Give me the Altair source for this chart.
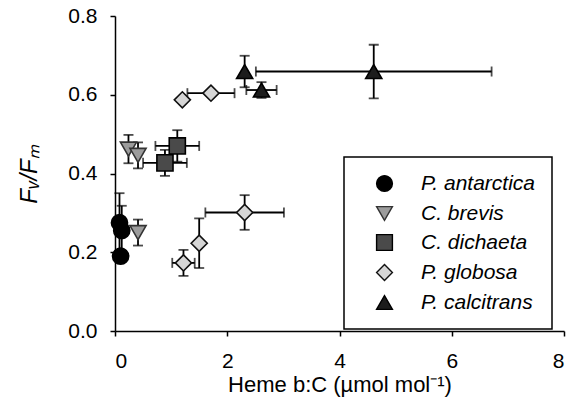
import altair as alt
import pandas as pd

species = ["P. antarctica", "C. brevis", "C. dichaeta", "P. globosa", "P. calcitrans"]
shapes = ["circle", "triangle-down", "square", "diamond", "triangle-up"]
fills = ["#000000", "#9c9c9c", "#4a4a4a", "#d6d6d6", "#1c1c1c"]
outlines = ["#000000", "#333333", "#000000", "#111111", "#000000"]

ant_x = [0.08, 0.12, 0.10]
ant_y = [0.275, 0.255, 0.19]
ant_xe = [0, 0, 0]
ant_ye = [0.075, 0.063, 0.015]

bre_x = [0.24, 0.41, 0.41]
bre_y = [0.462, 0.446, 0.25]
bre_xe = [0, 0, 0]
bre_ye = [0.036, 0.033, 0.033]

dic_x = [1.11, 0.89]
dic_y = [0.470, 0.427]
dic_xe = [0.39, 0.39]
dic_ye = [0.04, 0.033]

glo_x = [1.20, 1.71, 2.31, 1.50, 1.22]
glo_y = [0.587, 0.604, 0.301, 0.223, 0.173]
glo_xe = [0, 0.42, 0.70, 0, 0.20]
glo_ye = [0, 0, 0.044, 0.063, 0.033]

cal_x = [2.31, 2.61, 4.61]
cal_y = [0.659, 0.612, 0.659]
cal_xe = [0, 0.27, 2.1]
cal_ye = [0.04, 0.02, 0.068]

rows = []
for sp, xs_, ys_, xes, yes in [
    (species[0], ant_x, ant_y, ant_xe, ant_ye),
    (species[1], bre_x, bre_y, bre_xe, bre_ye),
    (species[2], dic_x, dic_y, dic_xe, dic_ye),
    (species[3], glo_x, glo_y, glo_xe, glo_ye),
    (species[4], cal_x, cal_y, cal_xe, cal_ye),
]:
    for x, y, xe, ye in zip(xs_, ys_, xes, yes):
        rows.append(dict(sp=sp, x=x, y=y, xerr=xe, yerr=ye,
                         xlo=x - xe, xhi=x + xe, ylo=y - ye, yhi=y + ye))
df = pd.DataFrame(rows)

xs = alt.Scale(domain=[0, 8], nice=False)
ys = alt.Scale(domain=[0, 0.8], nice=False)
xax = alt.Axis(values=[0, 2, 4, 6, 8], format="d", title="Heme b:C (µmol mol⁻¹)")
yax = alt.Axis(values=[0, 0.2, 0.4, 0.6, 0.8], format=".1f", title="Fᵥ/Fₘ",
               titleFontStyle="italic")

base = alt.Chart(df)
ERR = dict(color="black", strokeWidth=1.8)

xbar = base.transform_filter("datum.xerr > 0").mark_rule(**ERR).encode(
    x=alt.X("xlo:Q", scale=xs, axis=xax), x2="xhi:Q",
    y=alt.Y("y:Q", scale=ys, axis=yax))
xcap = base.transform_filter("datum.xerr > 0").transform_fold(
    ["xlo", "xhi"], as_=["k", "v"]).mark_tick(
    orient="vertical", size=10, thickness=1.8, color="black").encode(
    x=alt.X("v:Q", scale=xs), y=alt.Y("y:Q", scale=ys))
ybar = base.transform_filter("datum.yerr > 0").mark_rule(**ERR).encode(
    x=alt.X("x:Q", scale=xs), y=alt.Y("ylo:Q", scale=ys), y2="yhi:Q")
ycap = base.transform_filter("datum.yerr > 0").transform_fold(
    ["ylo", "yhi"], as_=["k", "v"]).mark_tick(
    orient="horizontal", size=10, thickness=1.8, color="black").encode(
    x=alt.X("x:Q", scale=xs), y=alt.Y("v:Q", scale=ys))

leg = alt.Legend(title=None)
pts = base.mark_point(filled=True, size=260, opacity=1, strokeWidth=1.6).encode(
    x=alt.X("x:Q", scale=xs),
    y=alt.Y("y:Q", scale=ys),
    fill=alt.Fill("sp:N", scale=alt.Scale(domain=species, range=fills), legend=leg),
    stroke=alt.Stroke("sp:N", scale=alt.Scale(domain=species, range=outlines),
                      legend=leg),
    shape=alt.Shape("sp:N", scale=alt.Scale(domain=species, range=shapes),
                    legend=leg),
)

chart = alt.layer(xbar, xcap, ybar, ycap, pts).properties(
    width=449, height=315,
    autosize=alt.AutoSizeParams(type="none"),
    padding={"left": 115, "top": 16, "right": 10, "bottom": 80},
).configure_view(strokeWidth=0).configure_axis(
    grid=False, domainColor="black", domainWidth=1.5, tickColor="black",
    tickWidth=1.5, tickSize=5, labelFont="Liberation Sans", labelFontSize=21,
    labelColor="black", titleFont="Liberation Sans", titleFontSize=22,
    titleFontWeight="normal", titleColor="black",
).configure_axisX(titlePadding=3, labelPadding=14).configure_axisY(
    titlePadding=26, labelPadding=13, titleFontSize=24).configure_legend(
    orient="none", legendX=229, legendY=141, strokeColor="black",
    strokeWidth=1.5, fillColor="white", padding=16, symbolOffset=14,
    labelFont="Liberation Sans", labelFontSize=21, labelFontStyle="italic",
    labelColor="black", symbolSize=250, symbolStrokeWidth=1.4,
    rowPadding=7, labelOffset=26, labelLimit=300,
)

chart.save("out.html", embed_options={"renderer": "svg", "actions": False})
